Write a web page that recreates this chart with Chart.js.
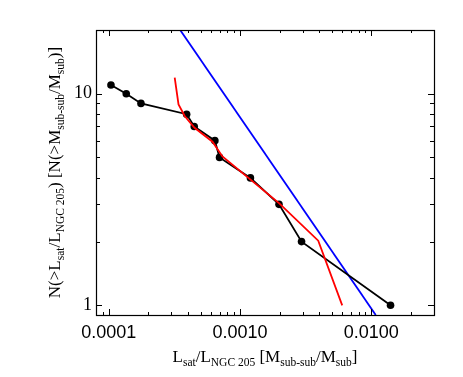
<!DOCTYPE html>
<html lang="en">
<head>
  <meta charset="UTF-8" />
  <title>N(&gt;L) vs L</title>
  <style>
    body { margin: 0; background: #fff; }
    #wrap { width: 463px; height: 377px; }
  </style>
</head>
<body>
  <div id="wrap"><canvas id="lumChart" width="463" height="377"></canvas></div>

  <script src="https://cdn.jsdelivr.net/npm/chart.js"></script>
  <script>
    // cumulative satellite counts (black dots)
    const satX = [0.000104, 0.000136, 0.000176, 0.000392, 0.000448, 0.000643, 0.000698, 0.0012, 0.00198, 0.00294, 0.014];
    const satY = [11, 10, 9, 8, 7, 6, 5, 4, 3, 2, 1];

    // sub-sub halo mass function (red)
    const subX = [0.000318, 0.00034, 0.000379, 0.00045, 0.000617, 0.000734, 0.00198, 0.00394, 0.006];
    const subY = [11.9, 8.9, 7.85, 6.9, 5.93, 5.05, 3.04, 2.02, 1.0];

    // power law (blue)
    const fitX = [0.00035, 0.0108];
    const fitY = [20, 0.9];

    const xTicks = [0.0001, 0.001, 0.01];
    const xTickLabels = ['0.0001', '0.0010', '0.0100'];
    const yTicks = [1, 10];
    const yTickLabels = ['1', '10'];

    const pts = (xs, ys) => xs.map((x, i) => ({ x: x, y: ys[i] }));

    // minor ticks 2..9 in each decade between lo and hi
    function minorTicks(lo, hi) {
      const out = [];
      for (let e = Math.floor(Math.log10(lo)); e <= Math.ceil(Math.log10(hi)); e++) {
        for (let m = 2; m <= 9; m++) {
          const v = m * Math.pow(10, e);
          if (v > lo && v < hi) out.push(v);
        }
      }
      return out;
    }

    // box with inward ticks on all four sides
    const framePlugin = {
      id: 'frame',
      afterDraw(chart) {
        const { ctx, chartArea: a, scales } = chart;
        const xs = scales.x, ys = scales.y;
        ctx.save();
        ctx.strokeStyle = '#000';
        ctx.lineWidth = 1;
        ctx.beginPath();
        const tick = (x1, y1, x2, y2) => { ctx.moveTo(x1, y1); ctx.lineTo(x2, y2); };
        xTicks.forEach(v => {
          const p = Math.round(xs.getPixelForValue(v)) + 0.5;
          tick(p, a.bottom, p, a.bottom - 6);
          tick(p, a.top, p, a.top + 6);
        });
        minorTicks(xs.min, xs.max).forEach(v => {
          const p = Math.round(xs.getPixelForValue(v)) + 0.5;
          tick(p, a.bottom, p, a.bottom - 3);
          tick(p, a.top, p, a.top + 3);
        });
        yTicks.forEach(v => {
          const p = Math.round(ys.getPixelForValue(v)) + 0.5;
          tick(a.left, p, a.left + 6, p);
          tick(a.right, p, a.right - 6, p);
        });
        minorTicks(ys.min, ys.max).forEach(v => {
          const p = Math.round(ys.getPixelForValue(v)) + 0.5;
          tick(a.left, p, a.left + 4, p);
          tick(a.right, p, a.right - 4, p);
        });
        ctx.stroke();
        ctx.lineWidth = 1.2;
        ctx.strokeRect(a.left + 0.5, a.top + 0.5, a.right - a.left, a.bottom - a.top);
        ctx.restore();
      }
    };

    // axis titles with subscripts
    function richText(ctx, parts, x, y, align) {
      const big = '17px "Liberation Serif", "Times New Roman", serif';
      const small = '11.5px "Liberation Serif", "Times New Roman", serif';
      let w = 0;
      parts.forEach(p => { ctx.font = p[1] ? small : big; w += ctx.measureText(p[0]).width; });
      let cx = align === 'center' ? x - w / 2 : x;
      ctx.textBaseline = 'alphabetic';
      ctx.textAlign = 'left';
      parts.forEach(p => {
        ctx.font = p[1] ? small : big;
        ctx.fillText(p[0], cx, p[1] ? y + 4 : y);
        cx += ctx.measureText(p[0]).width;
      });
    }

    const xTitle = [['L', 0], ['sat', 1], ['/L', 0], ['NGC 205', 1], [' [M', 0], ['sub-sub', 1], ['/M', 0], ['sub', 1], [']', 0]];
    const yTitle = [['N(>L', 0], ['sat', 1], ['/L', 0], ['NGC 205', 1], [') [N(>M', 0], ['sub-sub', 1], ['/M', 0], ['sub', 1], [')]', 0]];

    const titlePlugin = {
      id: 'titles',
      afterDraw(chart) {
        const { ctx, chartArea: a } = chart;
        ctx.save();
        ctx.fillStyle = '#000';
        richText(ctx, xTitle, (a.left + a.right) / 2, 362, 'center');
        ctx.translate(60, (a.top + a.bottom) / 2);
        ctx.rotate(-Math.PI / 2);
        richText(ctx, yTitle, 0, 0, 'center');
        ctx.restore();
      }
    };

    new Chart(document.getElementById('lumChart'), {
      type: 'line',
      data: {
        datasets: [
          {
            data: pts(subX, subY),
            borderColor: '#ff0000',
            borderWidth: 1.8,
            pointRadius: 0,
            tension: 0
          },
          {
            data: pts(satX, satY),
            borderColor: '#000',
            backgroundColor: '#000',
            borderWidth: 1.8,
            pointRadius: 3.8,
            pointBorderWidth: 0,
            tension: 0
          },
          {
            data: pts(fitX, fitY),
            borderColor: '#0000ff',
            borderWidth: 1.8,
            pointRadius: 0,
            tension: 0
          }
        ]
      },
      options: {
        responsive: false,
        animation: false,
        devicePixelRatio: 1,
        layout: { padding: { left: 0, right: 29, top: 30, bottom: 0 } },
        plugins: { legend: { display: false }, tooltip: { enabled: false } },
        scales: {
          x: {
            type: 'logarithmic',
            min: 0.00008,
            max: 0.03,
            grid: { display: false, drawTicks: false },
            border: { display: false },
            afterBuildTicks: s => { s.ticks = xTicks.map(v => ({ value: v })); },
            afterFit: s => { s.height = 62; },
            ticks: {
              autoSkip: false,
              maxRotation: 0,
              padding: 7,
              color: '#000',
              font: { family: '"Liberation Sans", Arial, sans-serif', size: 18 },
              callback: (v) => xTickLabels[xTicks.indexOf(v)]
            }
          },
          y: {
            type: 'logarithmic',
            min: 0.9,
            max: 20,
            grid: { display: false, drawTicks: false },
            border: { display: false },
            afterBuildTicks: s => { s.ticks = yTicks.map(v => ({ value: v })); },
            afterFit: s => { s.width = 96; },
            ticks: {
              autoSkip: false,
              padding: 4,
              color: '#000',
              font: { family: '"Liberation Serif", "Times New Roman", serif', size: 18 },
              callback: (v) => yTickLabels[yTicks.indexOf(v)]
            }
          }
        }
      },
      plugins: [framePlugin, titlePlugin]
    });
  </script>
</body>
</html>
